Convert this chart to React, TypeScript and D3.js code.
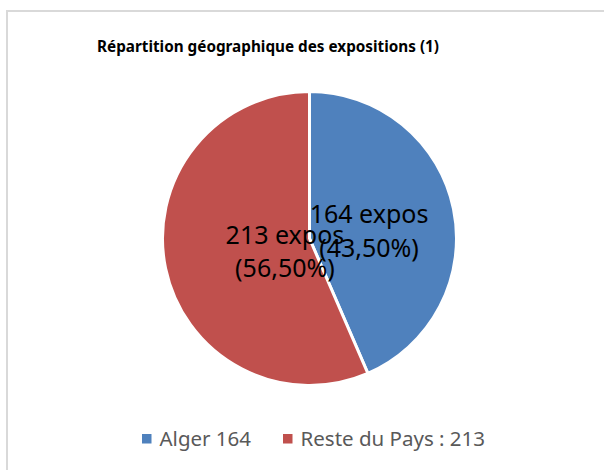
import React from "react";
import * as d3 from "d3";

const categories = ["Alger", "Reste du Pays"];
const values = [164, 213];
const sliceLabels = [["164 expos", "(43,50%)"], ["213 expos", "(56,50%)"]];
const legendLabels = ["Alger 164", "Reste du Pays : 213"];
const colors = ["#4F81BD", "#C0504D"];
const title = "Répartition géographique des expositions (1)";

const W = 604;
const H = 470;
const cx = 309.5;
const cy = 238.5;
const R = 147;
// label anchor offsets (fractions of radius) for each slice
const labelOffsets = [
  [0.405, -0.105],
  [-0.167, 0.037],
];

export default function App() {
  const pie = d3
    .pie<number>()
    .sort(null)
    .value((d) => d)
    .startAngle(0)
    .endAngle(2 * Math.PI);
  const arcs = pie(values);
  const arc = d3.arc<d3.PieArcDatum<number>>().innerRadius(0).outerRadius(R);
  const font = "'Noto Sans', 'Open Sans', sans-serif";

  return (
    <svg
      width={W}
      height={H}
      style={{ position: "absolute", left: 0, top: 0, background: "#fff" }}
    >
      <rect x={0} y={0} width={W} height={H} fill="#fff" />
      <rect
        x={7}
        y={11}
        width={W + 20}
        height={H + 20}
        fill="#fff"
        stroke="#d9d9d9"
        strokeWidth={2}
      />
      <text
        x={268}
        y={51.5}
        textAnchor="middle"
        fontFamily={font}
        fontWeight="bold"
        fontSize={15.5}
        textLength={342}
        lengthAdjust="spacingAndGlyphs"
        fill="#000"
      >
        {title}
      </text>
      <g transform={`translate(${cx},${cy})`}>
        {arcs.map((a, i) => (
          <path
            key={categories[i]}
            d={arc(a) || ""}
            fill={colors[i]}
            stroke="#fff"
            strokeWidth={3}
            strokeLinejoin="round"
          />
        ))}
        {arcs.map((a, i) => (
          <text
            key={"l" + i}
            x={labelOffsets[i][0] * R}
            y={labelOffsets[i][1] * R}
            textAnchor="middle"
            fontFamily={font}
            fontSize={25}
            fill="#000"
          >
            {sliceLabels[i].map((s, j) => (
              <tspan key={j} x={labelOffsets[i][0] * R} dy={j === 0 ? 0 : 33.5}>
                {s}
              </tspan>
            ))}
          </text>
        ))}
      </g>
      <g>
        {legendLabels.map((l, i) => {
          const x0 = i === 0 ? 142 : 283;
          return (
            <g key={l}>
              <rect x={x0} y={434} width={9.5} height={9.5} fill={colors[i]} />
              <text
                x={x0 + 17.5}
                y={446}
                fontFamily={font}
                fontSize={20.5}
                fill="#595959"
              >
                {l}
              </text>
            </g>
          );
        })}
      </g>
    </svg>
  );
}
